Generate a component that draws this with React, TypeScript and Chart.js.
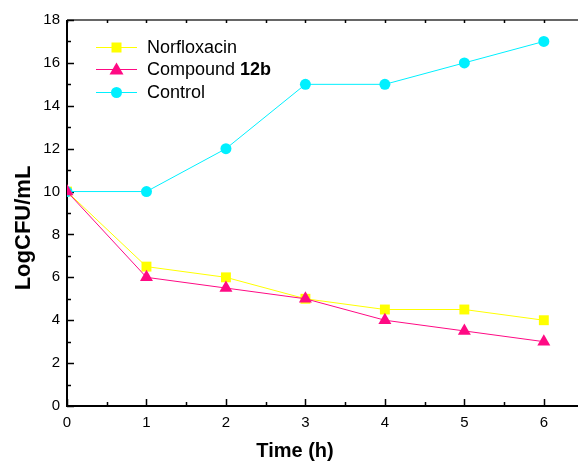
import React, { useEffect, useRef } from 'react';
import { Chart, registerables } from 'chart.js';
Chart.register(...registerables);

const times = [0, 1, 2, 3, 4, 5, 6];
const norfloxacin = [10, 6.5, 6, 5, 4.5, 4.5, 4];
const compound12b = [10, 6, 5.5, 5, 4, 3.5, 3];
const control = [10, 10, 12, 15, 15, 16, 17];
const xTickValues = [0, 1, 2, 3, 4, 5, 6];
const yTickValues = [0, 2, 4, 6, 8, 10, 12, 14, 16, 18];

const FONT = '"Liberation Sans", Arial, Helvetica, sans-serif';
const YELLOW = '#FFFF00';
const PINK = '#FF0A84';
const CYAN = '#00F0FF';

function drawMarker(ctx: CanvasRenderingContext2D, style: string, x: number, y: number, color: string) {
  ctx.save();
  ctx.fillStyle = color;
  ctx.beginPath();
  if (style === 'rect') {
    ctx.rect(x - 5, y - 5, 10, 10);
  } else if (style === 'triangle') {
    ctx.moveTo(x, y - 7);
    ctx.lineTo(x + 7, y + 5);
    ctx.lineTo(x - 7, y + 5);
    ctx.closePath();
  } else {
    ctx.arc(x, y, 5.5, 0, Math.PI * 2);
  }
  ctx.fill();
  ctx.restore();
}

const framePlugin = {
  id: 'frame',
  beforeDatasetsDraw(chart: any) {
    const { ctx, chartArea } = chart;
    const xs = chart.scales.x;
    const ys = chart.scales.y;
    const { left, right, top, bottom } = chartArea;
    ctx.save();
    ctx.strokeStyle = '#000';
    ctx.lineWidth = 2;
    ctx.beginPath();
    ctx.moveTo(left, top);
    ctx.lineTo(left, bottom);
    ctx.lineTo(right, bottom);
    ctx.stroke();
    ctx.strokeStyle = '#333';
    ctx.lineWidth = 1.5;
    ctx.beginPath();
    ctx.moveTo(left, top);
    ctx.lineTo(right, top);
    ctx.stroke();
    ctx.strokeStyle = '#000';
    ctx.lineWidth = 1.5;
    ctx.beginPath();
    for (let v = 0; v <= 6.5; v += 0.5) {
      const px = Math.round(xs.getPixelForValue(v)) + 0.5;
      if (px > right) break;
      const major = Math.abs(v - Math.round(v)) < 1e-6;
      const len = major ? 7 : 4;
      ctx.moveTo(px, bottom);
      ctx.lineTo(px, bottom - len);
      ctx.moveTo(px, top);
      ctx.lineTo(px, top + 3);
    }
    for (let v = 0; v <= 18; v += 1) {
      const py = Math.round(ys.getPixelForValue(v)) + 0.5;
      const major = v % 2 === 0;
      const len = major ? 7 : 4;
      ctx.moveTo(left, py);
      ctx.lineTo(left + len, py);
    }
    ctx.stroke();
    ctx.restore();
  },
  afterDraw(chart: any) {
    const { ctx } = chart;
    ctx.save();
    // Axis titles
    ctx.fillStyle = '#000';
    ctx.font = `bold 20px ${FONT}`;
    ctx.textAlign = 'center';
    ctx.textBaseline = 'middle';
    ctx.fillText('Time (h)', 295, 451);
    ctx.save();
    ctx.translate(24, 228);
    ctx.rotate(-Math.PI / 2);
    ctx.font = `bold 22px ${FONT}`;
    ctx.fillText('LogCFU/mL', 0, 0);
    ctx.restore();

    // Legend
    const rows = [
      { label: 'Norfloxacin', bold: '', color: YELLOW, style: 'rect', y: 47 },
      { label: 'Compound ', bold: '12b', color: PINK, style: 'triangle', y: 69 },
      { label: 'Control', bold: '', color: CYAN, style: 'circle', y: 92 },
    ];
    for (const r of rows) {
      ctx.strokeStyle = r.color;
      ctx.lineWidth = 1;
      ctx.beginPath();
      ctx.moveTo(96, r.y + 0.5);
      ctx.lineTo(137, r.y + 0.5);
      ctx.stroke();
      drawMarker(ctx, r.style, 116.5, r.y + 0.5, r.color);
      ctx.fillStyle = '#000';
      ctx.textAlign = 'left';
      ctx.textBaseline = 'middle';
      ctx.font = `18px ${FONT}`;
      ctx.fillText(r.label, 147, r.y + 1);
      if (r.bold) {
        const w = ctx.measureText(r.label).width;
        ctx.font = `bold 18px ${FONT}`;
        ctx.fillText(r.bold, 147 + w, r.y + 1);
      }
    }
    ctx.restore();
  },
};

export default function App() {
  const ref = useRef<HTMLCanvasElement>(null);
  useEffect(() => {
    if (!ref.current) return;
    const mk = (d: number[]) => times.map((t, i) => ({ x: t, y: d[i] }));
    const chart = new Chart(ref.current, {
      type: 'line',
      data: {
        datasets: [
          {
            label: 'Compound 12b',
            data: mk(compound12b),
            borderColor: PINK,
            backgroundColor: PINK,
            borderWidth: 1,
            pointStyle: 'triangle',
            pointRadius: 7.5,
            pointBorderWidth: 0,
            order: 0,
          },
          {
            label: 'Control',
            data: mk(control),
            borderColor: CYAN,
            backgroundColor: CYAN,
            borderWidth: 1,
            pointStyle: 'circle',
            pointRadius: 5.5,
            pointBorderWidth: 0,
            order: 1,
          },
          {
            label: 'Norfloxacin',
            data: mk(norfloxacin),
            borderColor: YELLOW,
            backgroundColor: YELLOW,
            borderWidth: 1,
            pointStyle: 'rect',
            pointRadius: 7,
            pointBorderWidth: 0,
            order: 2,
          },
        ],
      },
      options: {
        responsive: false,
        animation: false,
        layout: { autoPadding: false, padding: { top: 20, right: 0, left: 0, bottom: 0 } },
        plugins: { legend: { display: false }, tooltip: { enabled: false } },
        scales: {
          x: {
            type: 'linear',
            min: 0,
            max: 6.43,
            afterFit: (s: any) => { s.height = 60; s.paddingLeft = 0; s.paddingRight = 0; s.paddingTop = 0; s.paddingBottom = 0; },
            afterBuildTicks: (s: any) => { s.ticks = xTickValues.map((v) => ({ value: v })); },
            grid: { display: false, drawTicks: false },
            border: { display: false },
            ticks: { padding: 8, color: '#000', font: { family: FONT, size: 15 } },
          },
          y: {
            type: 'linear',
            min: 0,
            max: 18,
            afterFit: (s: any) => { s.width = 67; s.paddingTop = 0; s.paddingBottom = 0; s.paddingLeft = 0; s.paddingRight = 0; },
            afterBuildTicks: (s: any) => { s.ticks = yTickValues.map((v) => ({ value: v })); },
            grid: { display: false, drawTicks: false },
            border: { display: false },
            ticks: { padding: 7, color: '#000', font: { family: FONT, size: 15 } },
          },
        },
      },
      plugins: [framePlugin],
    });
    return () => chart.destroy();
  }, []);
  return (
    <div style={{ position: 'absolute', left: 0, top: 0, width: 578, height: 466, background: '#fff' }}>
      <canvas ref={ref} width={578} height={466} style={{ display: 'block' }} />
    </div>
  );
}
